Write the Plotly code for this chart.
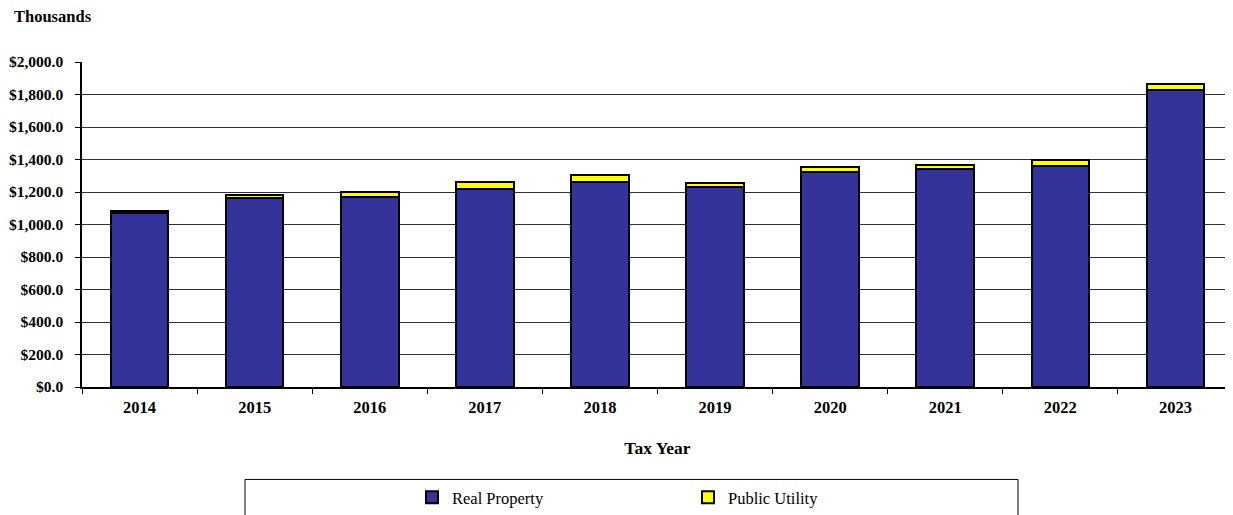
import plotly.graph_objects as go

# Tax years and values (thousands of dollars)
years = ['2014', '2015', '2016', '2017', '2018', '2019', '2020', '2021', '2022', '2023']
real_property = [1070, 1163, 1170, 1220, 1262, 1228, 1322, 1340, 1360, 1830]
public_utility = [12, 20, 27, 42, 45, 25, 32, 24, 34, 35]

# page body has an 8px margin, so the figure is drawn that much smaller
OFF = 8
W, H = 1233 - OFF, 515 - OFF
L, R, T, B = 74, 0, 54, 126
serif = 'Liberation Serif, Times New Roman, serif'

fig = go.Figure()
fig.add_trace(go.Bar(
    x=years, y=real_property, name='Real Property',
    marker=dict(color='#333399', line=dict(color='black', width=2)),
    width=0.5
))
fig.add_trace(go.Bar(
    x=years, y=public_utility, name='Public Utility',
    marker=dict(color='#FFFF00', line=dict(color='black', width=2)),
    width=0.5
))

# window pixel -> paper coordinate
def px_x(p):
    return (p - OFF - L) / (W - L - R)

def px_y(p):
    return (H - B - (p - OFF)) / (H - T - B)

fig.update_layout(
    width=W, height=H,
    barmode='stack',
    margin=dict(l=L, r=R, t=T, b=B),
    paper_bgcolor='white', plot_bgcolor='white',
    font=dict(family=serif, size=16, color='black'),
    showlegend=True,
    legend=dict(
        orientation='h', traceorder='normal',
        x=px_x(412), y=px_y(483), xanchor='left', yanchor='top',
        entrywidth=231, font=dict(family=serif, size=16.5, color='black'),
        bgcolor='rgba(0,0,0,0)'
    ),
    shapes=[dict(
        type='rect', xref='paper', yref='paper',
        x0=px_x(245), x1=px_x(1018), y0=px_y(482), y1=px_y(520),
        line=dict(color='black', width=1)
    )],
    annotations=[dict(
        text='<b>Thousands</b>', xref='paper', yref='paper',
        x=px_x(12), y=px_y(16), xanchor='left', yanchor='middle',
        showarrow=False, font=dict(family=serif, size=16.5, color='black')
    )],
)

fig.update_yaxes(
    range=[0, 2000], dtick=200, tickformat='$,.1f', automargin=False,
    showgrid=True, gridcolor='#333', gridwidth=1,
    showline=True, linecolor='black', linewidth=1.5,
    ticks='outside', ticklen=5, tickcolor='black', ticklabelstandoff=9,
    tickfont=dict(family=serif, size=15.5, color='black', weight='bold'),
    zeroline=False
)
fig.update_xaxes(
    automargin=False,
    showline=True, linecolor='black', linewidth=1.5,
    ticks='outside', ticklen=5, tickcolor='black', tickson='boundaries',
    ticklabelstandoff=4,
    tickfont=dict(family=serif, size=16.5, color='black', weight='bold'),
    title=dict(text='<b>Tax Year</b>', font=dict(family=serif, size=17.5, color='black'), standoff=26)
)

fig.write_html('out.html')
